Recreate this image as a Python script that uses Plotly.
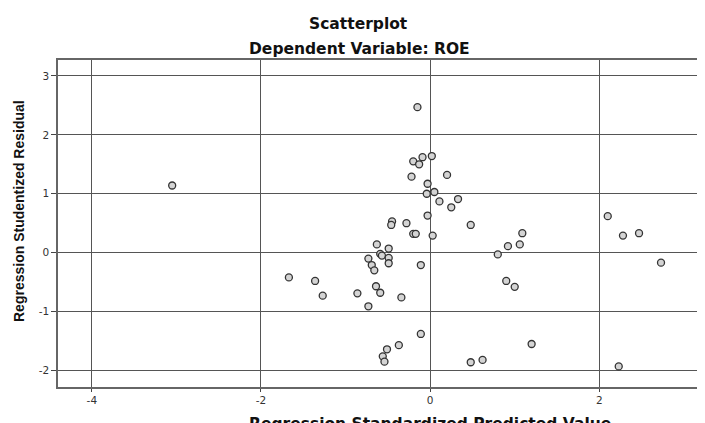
import plotly.graph_objects as go

predicted = [-3.05, -0.15, 0.02, -0.09, -0.20, -0.13, -0.22, 0.20, -0.03, 0.05,
             -0.04, 0.11, 0.33, 0.25, -0.03, -0.45, -0.46, -0.28, 0.48, -0.20,
             -0.17, 0.03, -0.63, -0.49, -0.59, -0.57, -0.73, -0.49, -0.69, -0.66,
             -0.49, -0.11, -1.67, -1.36, -1.27, -0.86, -0.64, -0.59, -0.34, -0.73,
             -0.11, -0.37, -0.51, -0.56, -0.54, 0.48, 0.62, 0.80, 0.92, 1.06,
             1.09, 0.90, 1.00, 1.20, 2.10, 2.28, 2.47, 2.73, 2.23]
residual = [1.14, 2.47, 1.64, 1.62, 1.55, 1.50, 1.29, 1.32, 1.17, 1.03,
            1.00, 0.87, 0.91, 0.77, 0.63, 0.53, 0.47, 0.50, 0.47, 0.32,
            0.32, 0.29, 0.14, 0.07, -0.02, -0.05, -0.10, -0.09, -0.21, -0.30,
            -0.18, -0.21, -0.42, -0.48, -0.73, -0.69, -0.57, -0.68, -0.76, -0.91,
            -1.38, -1.57, -1.64, -1.76, -1.85, -1.86, -1.82, -0.03, 0.11, 0.14,
            0.33, -0.48, -0.58, -1.55, 0.62, 0.29, 0.33, -0.17, -1.93]

x_ticks = [-4, -2, 0, 2]
y_ticks = [-2, -1, 0, 1, 2, 3]

title_main = "Scatterplot"
title_sub = "Dependent Variable: ROE"
x_title = "Regression Standardized Predicted Value"
y_title = "Regression Studentized Residual"

# page offset of the plot div (browser body margin)
OFF = 8
FIG_W, FIG_H = 705 - OFF, 423 - OFF
M_L, M_T, M_B, M_R = 58 - OFF, 60 - OFF, 36, 0
H_PLOT = FIG_H - M_T - M_B
W_PLOT = FIG_W - M_L - M_R

fig = go.Figure()
fig.add_trace(go.Scatter(
    x=predicted, y=residual, mode="markers",
    marker=dict(symbol="circle", size=7, color="#d4d4d4",
                line=dict(color="#333333", width=1.3)),
    showlegend=False, hoverinfo="x+y"))

grid_color = "#555555"
fig.update_xaxes(
    range=[-4.40, 3.25], tickvals=x_ticks, ticktext=[str(v) for v in x_ticks],
    showgrid=True, gridcolor=grid_color, gridwidth=1.4, zeroline=False,
    showline=True, linecolor="#666666", linewidth=1.5, mirror=True,
    ticks="outside", ticklen=3, tickcolor="#444444", tickwidth=1.2,
    automargin=False,
    tickfont=dict(family="DejaVu Sans", size=10.5, color="#333333"))
fig.update_yaxes(
    range=[-2.28, 3.27], tickvals=y_ticks, ticktext=[str(v) for v in y_ticks],
    showgrid=True, gridcolor=grid_color, gridwidth=1.4, zeroline=False,
    showline=True, linecolor="#666666", linewidth=1.5, mirror=False,
    ticks="outside", ticklen=5, tickcolor="#444444", tickwidth=1.2,
    automargin=False,
    tickfont=dict(family="DejaVu Sans", size=10.5, color="#333333"))


def px_to_paper_y(p):
    return (FIG_H - M_B - (p - OFF)) / H_PLOT


def px_to_paper_x(p):
    return ((p - OFF) - M_L) / W_PLOT


annotations = [
    dict(text="<b>" + title_main + "</b>", x=px_to_paper_x(358), y=px_to_paper_y(24),
         font=dict(family="DejaVu Sans", size=15.5, color="#111111")),
    dict(text="<b>" + title_sub + "</b>", x=px_to_paper_x(359), y=px_to_paper_y(49),
         font=dict(family="DejaVu Sans", size=15.5, color="#111111")),
    dict(text="<b>" + x_title + "</b>", x=px_to_paper_x(430), y=px_to_paper_y(424),
         font=dict(family="DejaVu Sans", size=15.5, color="#111111")),
    dict(text="<b>" + y_title + "</b>", x=px_to_paper_x(19), y=px_to_paper_y(211),
         textangle=-90,
         font=dict(family="Liberation Sans", size=14, color="#111111")),
]
for a in annotations:
    a.update(xref="paper", yref="paper", showarrow=False,
             xanchor="center", yanchor="middle")

fig.update_layout(
    width=FIG_W, height=FIG_H,
    margin=dict(l=M_L, r=M_R, t=M_T, b=M_B),
    paper_bgcolor="white", plot_bgcolor="white",
    annotations=annotations)

fig.write_html("out.html")
